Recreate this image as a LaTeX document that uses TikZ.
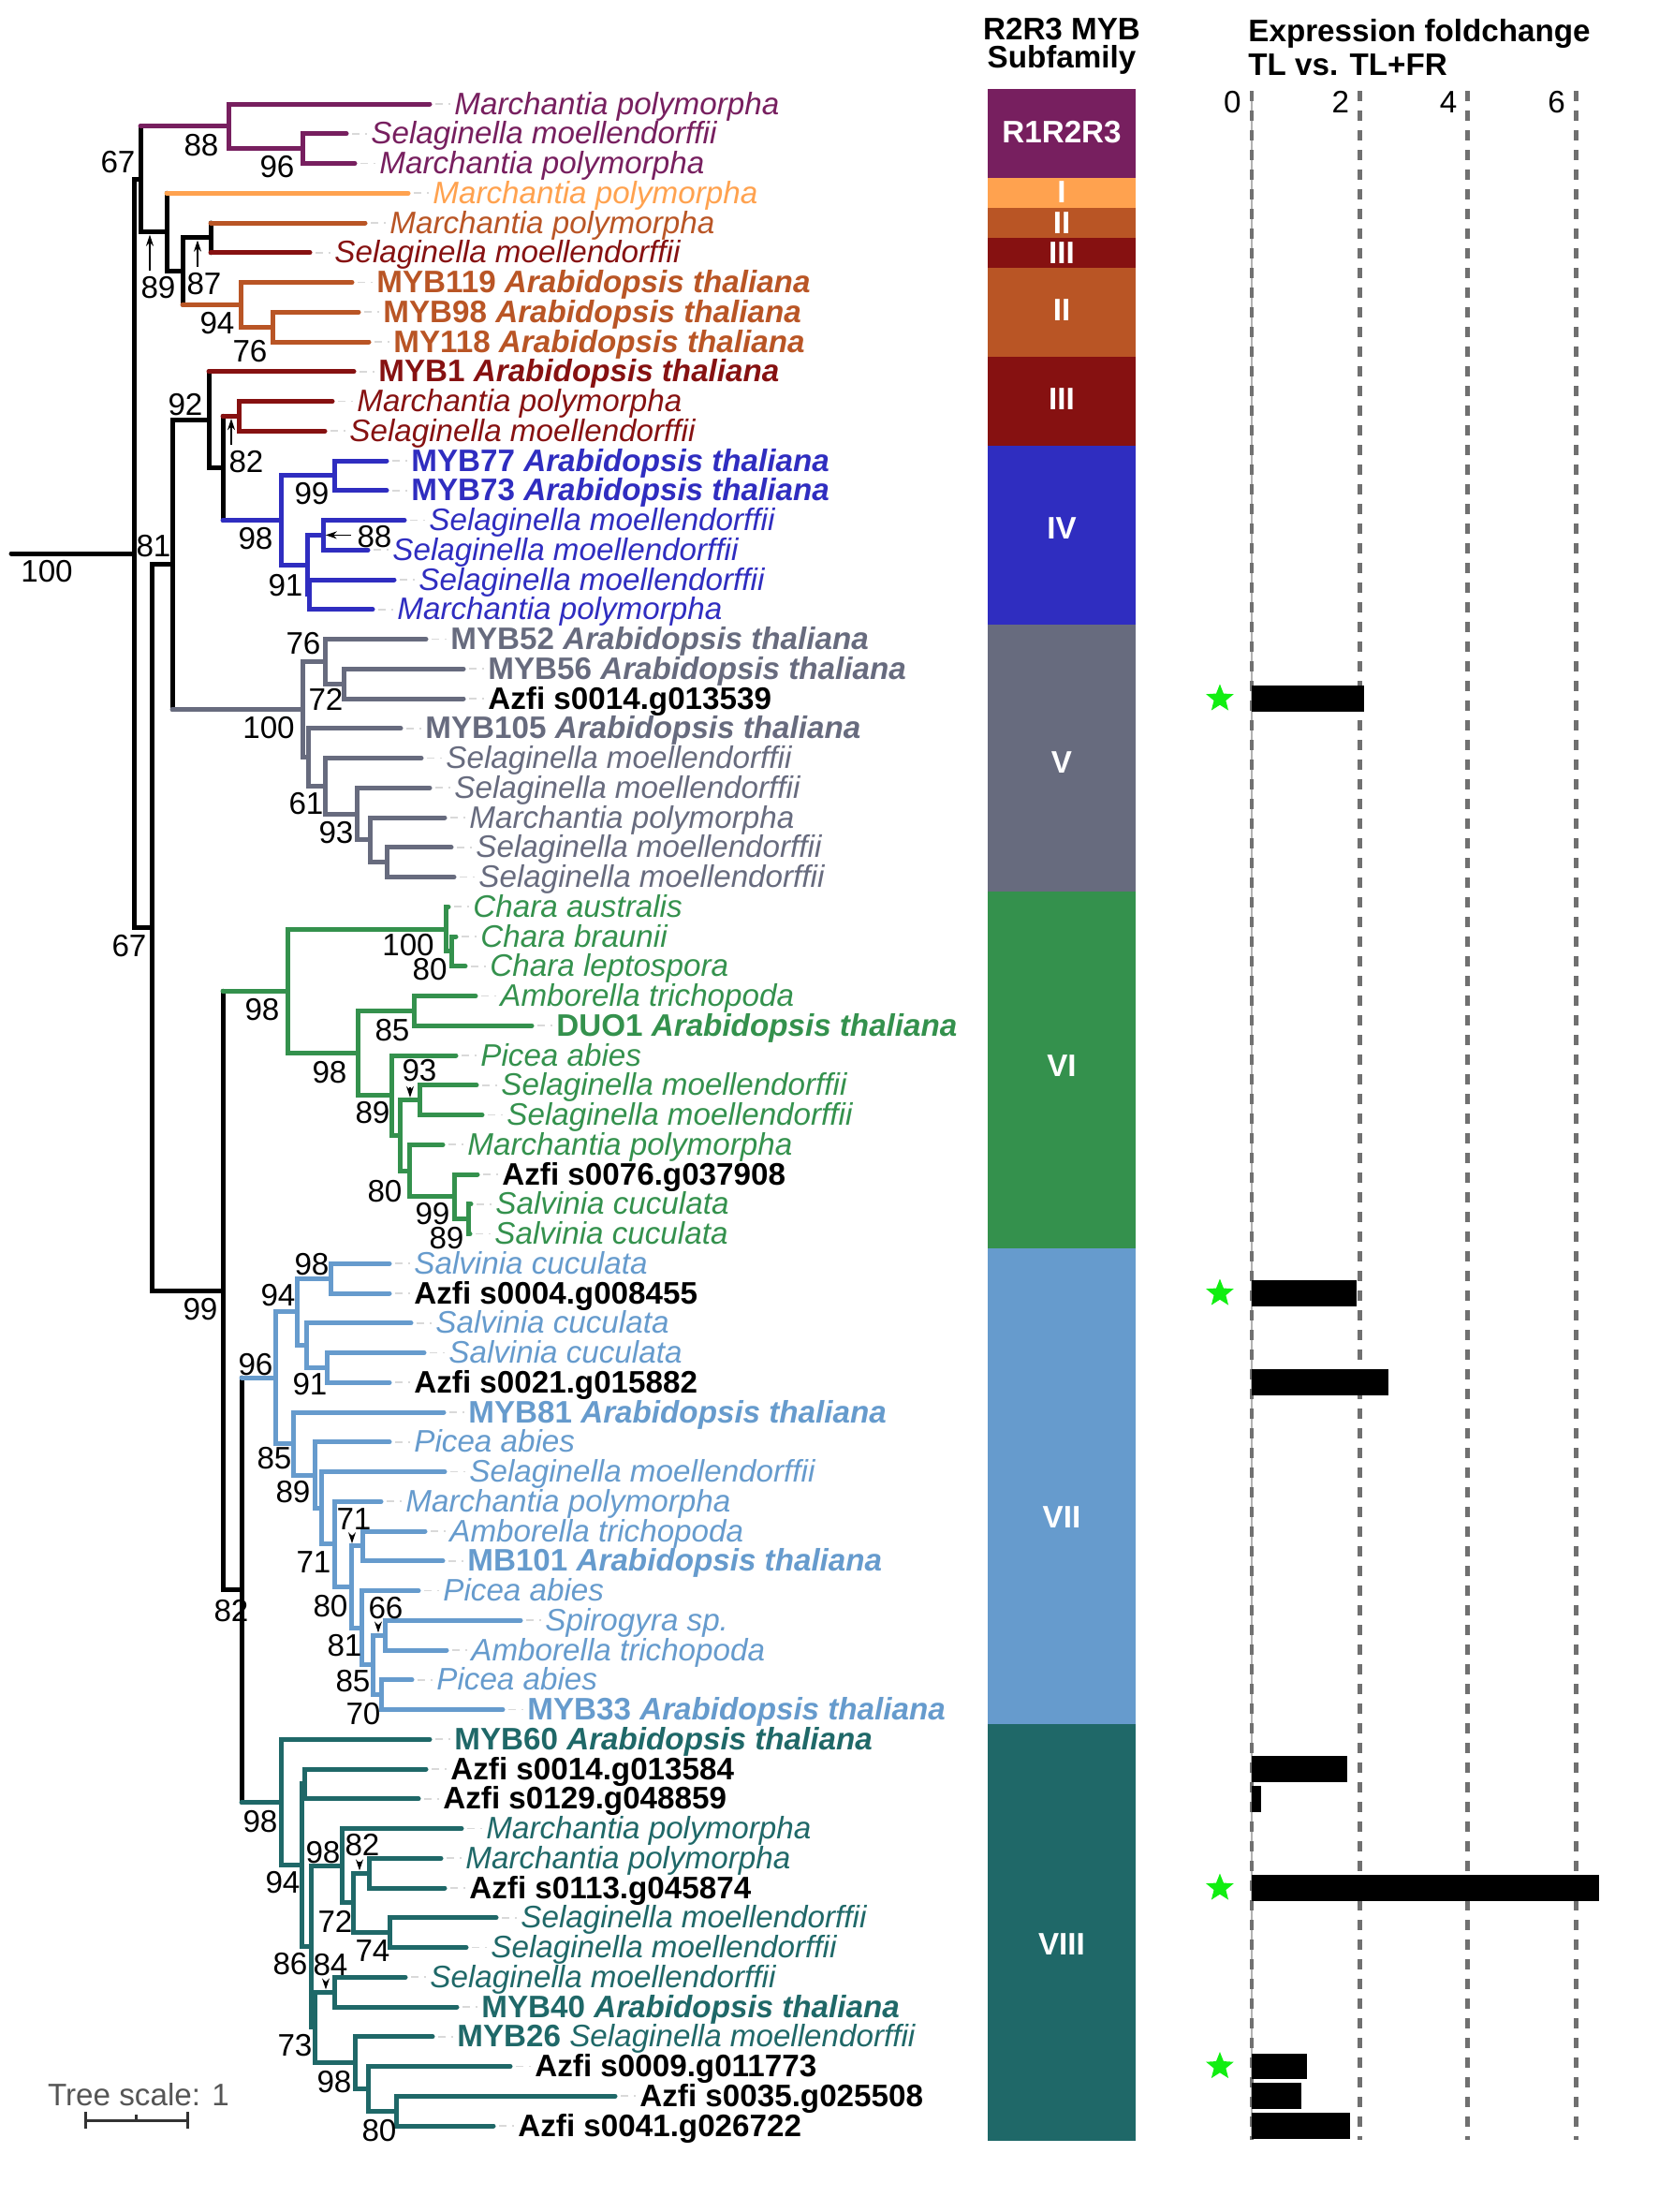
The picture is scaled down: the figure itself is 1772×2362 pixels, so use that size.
\documentclass[tikz,border=0pt]{standalone}
\usepackage{fontspec}
\setmainfont{Liberation Sans}
\usetikzlibrary{shapes.geometric,arrows.meta,positioning,calc}
\definecolor{SFpur}  {HTML}{771F5F}
\definecolor{SFone}  {HTML}{FFA24F}
\definecolor{SFtwo}  {HTML}{B95525}
\definecolor{SFthree}{HTML}{861111}
\definecolor{SFfour} {HTML}{2F2DC0}
\definecolor{SFfive} {HTML}{676B7E}
\definecolor{SFsix}  {HTML}{34914D}
\definecolor{SFseven}{HTML}{669BCD}
\definecolor{SFeight}{HTML}{1F6868}
\definecolor{StarGreen}{HTML}{11EE11}
\definecolor{GridGray}{HTML}{707070}
\definecolor{ScaleGray}{HTML}{555555}
\newcommand{\spMp}{\textit{Marchantia polymorpha}}
\newcommand{\spSm}{\textit{Selaginella moellendorffii}}
\newcommand{\spSc}{\textit{Salvinia cuculata}}
\newcommand{\spPa}{\textit{Picea abies}}
\newcommand{\spAm}{\textit{Amborella trichopoda}}
\newcommand{\myb}[1]{\textbf{#1 \textit{Arabidopsis thaliana}}}
\newcommand{\azfi}[1]{\textcolor{black}{\textbf{Azfi #1}}}
\newcommand{\lbfont}{\fontsize{16.6}{19}\selectfont}
\tikzset{
  branch/.style={line width=2.5pt,line cap=round,line join=miter},
  leaflab/.style={anchor=base west,inner sep=0pt,font=\lbfont},
  leader/.style={draw=black!15,line width=0.8pt,dash pattern=on 4pt off 3pt,shorten <=3pt,shorten >=2pt},
  bs/.style={inner sep=0pt,font=\lbfont},
  bsarr/.style={-{Stealth[length=6pt,width=4pt]},line width=0.8pt,shorten <=3pt,shorten >=1.4pt},
  bandlab/.style={text=white,inner sep=0pt,font=\lbfont\bfseries},
  head/.style={inner sep=0pt,font=\fontsize{16.6}{15}\selectfont\bfseries},
  gridline/.style={draw=GridGray,line width=2.4pt,dash pattern=on 5.5pt off 5pt},
  gstar/.style={star,star points=5,star point ratio=2.3,fill=StarGreen,inner sep=0pt,minimum size=15.5pt},
  ticklab/.style={anchor=east,inner sep=0pt,font=\lbfont},
  scalebar/.style={draw=black!80,line width=1.5pt}
}
% tree edges: elbow from parent to children, black stem + coloured twig
\newcommand{\twigs}[3][black]{\foreach \kd in {#3} {\draw[branch,#1] (#2) |- (\kd);}}
\newcommand{\cladestem}[3]{\draw[branch] (#1) -- (#1 |- #2); \draw[branch,#3] (#1 |- #2) -- (#2);}

\begin{document}
\begin{tikzpicture}[x=0.5pt,y=-0.5pt]
  \useasboundingbox (0,0) rectangle (1772,2362);
  % headers
  \node[head,align=center] (hdSub) at (1134,49) {R2R3 MYB\\Subfamily};
  \node[head,align=left,anchor=west,font=\fontsize{16.6}{18}\selectfont\bfseries]
    (hdExp) at (1333,51) {Expression foldchange\\TL vs. TL+FR};

  \begin{scope}[y=-15.875pt,yshift=-39.625pt]
    % leaves: index / tip x / colour / label
    \foreach \k/\x/\c/\t in {
      1/459/SFpur/\spMp, 2/370/SFpur/\spSm, 3/379/SFpur/\spMp,
      4/436/SFone/\spMp, 5/390/SFtwo/\spMp, 6/331/SFthree/\spSm,
      7/376/SFtwo/{\myb{MYB119}}, 8/383/SFtwo/{\myb{MYB98}}, 9/394/SFtwo/{\myb{MY118}},
      10/378/SFthree/{\myb{MYB1}}, 11/355/SFthree/\spMp, 12/347/SFthree/\spSm,
      13/413/SFfour/{\myb{MYB77}}, 14/413/SFfour/{\myb{MYB73}}, 15/432/SFfour/\spSm,
      16/393/SFfour/\spSm, 17/421/SFfour/\spSm, 18/398/SFfour/\spMp,
      19/455/SFfive/{\myb{MYB52}}, 20/495/SFfive/{\myb{MYB56}}, 21/495/SFfive/{\azfi{s0014.g013539}},
      22/428/SFfive/{\myb{MYB105}}, 23/450/SFfive/\spSm, 24/459/SFfive/\spSm,
      25/475/SFfive/\spMp, 26/482/SFfive/\spSm, 27/485/SFfive/\spSm,
      28/479/SFsix/{\textit{Chara australis}}, 29/487/SFsix/{\textit{Chara braunii}},
      30/497/SFsix/{\textit{Chara leptospora}}, 31/508/SFsix/\spAm, 32/568/SFsix/{\myb{DUO1}},
      33/487/SFsix/\spPa, 34/509/SFsix/\spSm, 35/515/SFsix/\spSm, 36/473/SFsix/\spMp,
      37/510/SFsix/{\azfi{s0076.g037908}}, 38/503/SFsix/\spSc, 39/502/SFsix/\spSc,
      40/416/SFseven/\spSc, 41/416/SFseven/{\azfi{s0004.g008455}}, 42/439/SFseven/\spSc,
      43/453/SFseven/\spSc, 44/416/SFseven/{\azfi{s0021.g015882}}, 45/474/SFseven/{\myb{MYB81}},
      46/416/SFseven/\spPa, 47/475/SFseven/\spSm, 48/407/SFseven/\spMp,
      49/454/SFseven/\spAm, 50/473/SFseven/{\myb{MB101}}, 51/447/SFseven/\spPa,
      52/556/SFseven/{\textit{Spirogyra sp.}}, 53/477/SFseven/\spAm, 54/440/SFseven/\spPa,
      55/537/SFseven/{\myb{MYB33}}, 56/459/SFeight/{\myb{MYB60}},
      57/455/SFeight/{\azfi{s0014.g013584}}, 58/447/SFeight/{\azfi{s0129.g048859}},
      59/493/SFeight/\spMp, 60/471/SFeight/\spMp, 61/475/SFeight/{\azfi{s0113.g045874}},
      62/530/SFeight/\spSm, 63/498/SFeight/\spSm, 64/433/SFeight/\spSm,
      65/488/SFeight/{\myb{MYB40}}, 66/462/SFeight/{\textbf{MYB26} \spSm},
      67/545/SFeight/{\azfi{s0009.g011773}}, 68/657/SFeight/{\azfi{s0035.g025508}},
      69/527/SFeight/{\azfi{s0041.g026722}}}{
      \coordinate (l\k) at (\x,\k);
      \node[leaflab,text=\c] (t\k) at ([xshift=13pt,yshift=-5.6pt]l\k) {\t};
      \draw[leader] (l\k) -- (l\k -| t\k.west);
    }
    % internal nodes (x, midpoint of children)
    \coordinate (r0) at (12,16.12);
    \coordinate (nR) at (143,16.12);
    \coordinate (nA67) at (150,3.531);
    \coordinate (nP88) at (244,1.75);
    \coordinate (nP96) at (323,2.5);
    \coordinate (nO89) at (178,5.3125);
    \coordinate (nQ) at (195,6.625);
    \coordinate (nO87) at (225,5.5);
    \coordinate (nO94) at (257,7.75);
    \coordinate (nO76) at (291,8.5);
    \coordinate (nB67) at (162,28.70);
    \coordinate (nC81) at (184,16.492);
    \coordinate (nD92) at (223,11.625);
    \coordinate (nD) at (238,13.25);
    \coordinate (nR82) at (255,11.5);
    \coordinate (nU98) at (300,15);
    \coordinate (nU99) at (357,13.5);
    \coordinate (nU91) at (328,16.5);
    \coordinate (nU88) at (345,15.5);
    \coordinate (nUm) at (330,17.5);
    \coordinate (nG100) at (323,21.359);
    \coordinate (nG76) at (347,19.75);
    \coordinate (nG72) at (367,20.5);
    \coordinate (nGm) at (329,22.969);
    \coordinate (nG61) at (347,23.9375);
    \coordinate (nG93) at (381,24.875);
    \coordinate (nGa) at (395,25.75);
    \coordinate (nGb) at (413,26.5);
    \coordinate (nE99) at (238,40.91);
    \coordinate (nV98) at (307,30.836);
    \coordinate (nV100) at (476,28.75);
    \coordinate (nV80a) at (482,29.5);
    \coordinate (nV98b) at (382,32.922);
    \coordinate (nV85) at (442,31.5);
    \coordinate (nV89) at (418,34.344);
    \coordinate (nVa) at (427,35.6875);
    \coordinate (nV93) at (448,34.5);
    \coordinate (nV80) at (437,36.875);
    \coordinate (nV99) at (485,37.75);
    \coordinate (nV89b) at (500,38.5);
    \coordinate (nF82) at (258,50.98);
    \coordinate (nL96) at (294,43.84);
    \coordinate (nL94) at (317,41.625);
    \coordinate (nL98) at (353,40.5);
    \coordinate (nLa) at (327,42.75);
    \coordinate (nL91) at (349,43.5);
    \coordinate (nL85) at (313,46.055);
    \coordinate (nL89) at (336,47.11);
    \coordinate (nLb) at (343,48.219);
    \coordinate (nL71) at (357,49.4375);
    \coordinate (nLc) at (375,50.875);
    \coordinate (nL71b) at (387,49.5);
    \coordinate (nL80) at (386,52.25);
    \coordinate (nL81) at (398,53.5);
    \coordinate (nL66) at (411,52.5);
    \coordinate (nL85b) at (407,54.5);
    \coordinate (nT98) at (300,58.115);
    \coordinate (nT94) at (322,60.234);
    \coordinate (nTa) at (325,57.5);
    \coordinate (nT86) at (332,62.969);
    \coordinate (nT98b) at (365,60.25);
    \coordinate (nT72) at (377,61.5);
    \coordinate (nT82) at (394,60.5);
    \coordinate (nT74) at (416,62.5);
    \coordinate (nT73) at (336,65.6875);
    \coordinate (nT84) at (357,64.5);
    \coordinate (nT98c) at (379,66.875);
    \coordinate (nT80) at (393,67.75);
    \coordinate (nTb) at (423,68.5);
    % arrow tips for support values
    \coordinate (a89) at (160,5.3125);
    \coordinate (a87) at (211,5.5);
    \coordinate (a82) at (247,11.5);
    \coordinate (a88) at (345,15.5);
    \coordinate (a93) at (438,34.5);
    \coordinate (a71) at (376,49.5);
    \coordinate (a66) at (404,52.5);
    \coordinate (a82t) at (384,60.5);
    \coordinate (a84) at (348,64.5);

    % backbone and clades
    \draw[branch] (r0) -- (nR);
    \twigs{nR}{nA67,nB67}
    \cladestem{nA67}{nP88}{SFpur}
    \twigs{nA67}{nO89}
    \twigs[SFpur]{nP88}{l1,nP96}
    \twigs[SFpur]{nP96}{l2,l3}
    \cladestem{nO89}{l4}{SFone}
    \twigs{nO89}{nQ}
    \twigs{nQ}{nO87}
    \cladestem{nQ}{nO94}{SFtwo}
    \cladestem{nO87}{l5}{SFtwo}
    \cladestem{nO87}{l6}{SFthree}
    \twigs[SFtwo]{nO94}{l7,nO76}
    \twigs[SFtwo]{nO76}{l8,l9}
    \twigs{nB67}{nC81,nE99}
    \twigs{nC81}{nD92}
    \cladestem{nC81}{nG100}{SFfive}
    \cladestem{nD92}{l10}{SFthree}
    \twigs{nD92}{nD}
    \cladestem{nD}{nR82}{SFthree}
    \cladestem{nD}{nU98}{SFfour}
    \twigs[SFthree]{nR82}{l11,l12}
    \twigs[SFfour]{nU98}{nU99,nU91}
    \twigs[SFfour]{nU99}{l13,l14}
    \twigs[SFfour]{nU91}{nU88,nUm}
    \twigs[SFfour]{nU88}{l15,l16}
    \twigs[SFfour]{nUm}{l17,l18}
    \twigs[SFfive]{nG100}{nG76,nGm}
    \twigs[SFfive]{nG76}{l19,nG72}
    \twigs[SFfive]{nG72}{l20,l21}
    \twigs[SFfive]{nGm}{l22,nG61}
    \twigs[SFfive]{nG61}{l23,nG93}
    \twigs[SFfive]{nG93}{l24,nGa}
    \twigs[SFfive]{nGa}{l25,nGb}
    \twigs[SFfive]{nGb}{l26,l27}
    \cladestem{nE99}{nV98}{SFsix}
    \twigs{nE99}{nF82}
    \twigs[SFsix]{nV98}{nV100,nV98b}
    \twigs[SFsix]{nV100}{l28,nV80a}
    \twigs[SFsix]{nV80a}{l29,l30}
    \twigs[SFsix]{nV98b}{nV85,nV89}
    \twigs[SFsix]{nV85}{l31,l32}
    \twigs[SFsix]{nV89}{l33,nVa}
    \twigs[SFsix]{nVa}{nV93,nV80}
    \twigs[SFsix]{nV93}{l34,l35}
    \twigs[SFsix]{nV80}{l36,nV99}
    \twigs[SFsix]{nV99}{l37,nV89b}
    \twigs[SFsix]{nV89b}{l38,l39}
    \cladestem{nF82}{nL96}{SFseven}
    \cladestem{nF82}{nT98}{SFeight}
    \twigs[SFseven]{nL96}{nL94,nL85}
    \twigs[SFseven]{nL94}{nL98,nLa}
    \twigs[SFseven]{nL98}{l40,l41}
    \twigs[SFseven]{nLa}{l42,nL91}
    \twigs[SFseven]{nL91}{l43,l44}
    \twigs[SFseven]{nL85}{l45,nL89}
    \twigs[SFseven]{nL89}{l46,nLb}
    \twigs[SFseven]{nLb}{l47,nL71}
    \twigs[SFseven]{nL71}{l48,nLc}
    \twigs[SFseven]{nLc}{nL71b,nL80}
    \twigs[SFseven]{nL71b}{l49,l50}
    \twigs[SFseven]{nL80}{l51,nL81}
    \twigs[SFseven]{nL81}{nL66,nL85b}
    \twigs[SFseven]{nL66}{l52,l53}
    \twigs[SFseven]{nL85b}{l54,l55}
    \twigs[SFeight]{nT98}{l56,nT94}
    \twigs[SFeight]{nT94}{nTa,nT86}
    \twigs[SFeight]{nTa}{l57,l58}
    \twigs[SFeight]{nT86}{nT98b,nT73}
    \twigs[SFeight]{nT98b}{l59,nT72}
    \twigs[SFeight]{nT72}{nT82,nT74}
    \twigs[SFeight]{nT82}{l60,l61}
    \twigs[SFeight]{nT74}{l62,l63}
    \twigs[SFeight]{nT73}{nT84,nT98c}
    \twigs[SFeight]{nT84}{l64,l65}
    \twigs[SFeight]{nT98c}{l66,nT80}
    \twigs[SFeight]{nT80}{l67,nTb}
    \twigs[SFeight]{nTb}{l68,l69}

    % subfamily column: top / bottom / label row / colour / name
    \foreach \a/\b/\m/\c/\t [count=\i] in {0.5/3.5/1.96/SFpur/R1R2R3, 3.5/4.5/3.96/SFone/I,
        4.5/5.5/5/SFtwo/II, 5.5/6.5/6/SFthree/III, 6.5/9.5/7.94/SFtwo/II,
        9.5/12.5/10.93/SFthree/III, 12.5/18.5/15.27/SFfour/IV, 18.5/27.5/23.13/SFfive/V,
        27.5/39.5/33.35/SFsix/VI, 39.5/55.5/48.53/SFseven/VII, 55.5/69.5/62.9/SFeight/VIII}{
      \fill[\c] (1055,\a) rectangle (1213,\b);
      \node[bandlab] (sf\i) at (1134,\m) {\t};
    }

    % expression foldchange axis
    \begin{scope}[xshift=668.5pt,x=28.85pt]
      \draw[black!30,line width=0.6pt] (0,0.56) -- (0,69.47);
      \foreach \v in {0,2,4,6}{
        \draw[gridline] (\v,0.56) -- (\v,69.47);
        \node[ticklab] (tk\v) at ([xshift=-5.5pt]\v,0.93) {\v};
      }
      \foreach \k/\v in {21/2.08,41/1.94,44/2.53,57/1.77,58/0.17,61/6.43,67/1.02,68/0.92,69/1.82}
        \fill[black] (0,\k-0.44) rectangle (\v,\k+0.44);
      \foreach \k in {21,41,61,67}
        \node[gstar] (st\k) at (-0.59,\k) {};
    \end{scope}
  \end{scope}

  % support values
  \foreach \x/\y/\v [count=\i] in {50/610/100, 126/173/67, 215/155/88, 296/178/96,
      232/345/94, 267/375/76, 198/432/92, 164/583/81, 333/527/99, 273/575/98,
      305/625/91, 324/687/76, 348/747/72, 287/777/100, 327/858/61, 359/889/93,
      138/1010/67, 436/1009/100, 459/1035/80, 280/1078/98, 419/1100/85, 352/1145/98,
      398/1188/89, 411/1272/80, 462/1296/99, 477/1322/89, 333/1350/98, 297/1383/94,
      214/1398/99, 273/1457/96, 331/1478/91, 293/1557/85, 313/1593/89, 335/1668/71,
      353/1715/80, 247/1720/82, 368/1757/81, 377/1795/85, 388/1830/70, 278/1945/98,
      345/1978/98, 302/2010/94, 358/2052/72, 398/2083/74, 310/2097/86, 315/2184/73,
      357/2223/98, 405/2275/80}
    \node[bs] (bs\i) at (\x,\y) {\v};
  \node[bs] (bsA89) at (169,307) {89};
  \node[bs] (bsA87) at (218,303) {87};
  \node[bs] (bsA82) at (263,493) {82};
  \node[bs] (bsA88) at (400,573) {88};
  \node[bs] (bsA93) at (448,1143) {93};
  \node[bs] (bsA71) at (378,1622) {71};
  \node[bs] (bsA66) at (412,1717) {66};
  \node[bs] (bsA82t) at (387,1970) {82};
  \node[bs] (bsA84) at (353,2098) {84};
  \draw[bsarr] (a89 |- bsA89.north) -- (a89);
  \draw[bsarr] (a87 |- bsA87.north) -- (a87);
  \draw[bsarr] (a82 |- bsA82.north) -- (a82);
  \draw[bsarr] (bsA88.west |- a88) -- (a88);
  \draw[bsarr] (a93 |- bsA93.south) -- (a93);
  \draw[bsarr] (a71 |- bsA71.south) -- (a71);
  \draw[bsarr] (a66 |- bsA66.south) -- (a66);
  \draw[bsarr] (a82t |- bsA82t.south) -- (a82t);
  \draw[bsarr] (a84 |- bsA84.south) -- (a84);

  % tree scale
  \node[inner sep=0pt,font=\lbfont,text=ScaleGray] (tsLab) at (148,2237) {Tree scale: 1};
  \coordinate (sbL) at (91,2264);
  \coordinate (sbR) at (200,2264);
  \draw[scalebar] (sbL) -- (sbR);
  \draw[scalebar] ([yshift=4.5pt]sbL) -- ([yshift=-4.5pt]sbL);
  \draw[scalebar] ([yshift=4.5pt]sbR) -- ([yshift=-4.5pt]sbR);
  \draw[scalebar] ($(sbL)!.5!(sbR)$) -- ++(0,3pt);
\end{tikzpicture}
\end{document}
